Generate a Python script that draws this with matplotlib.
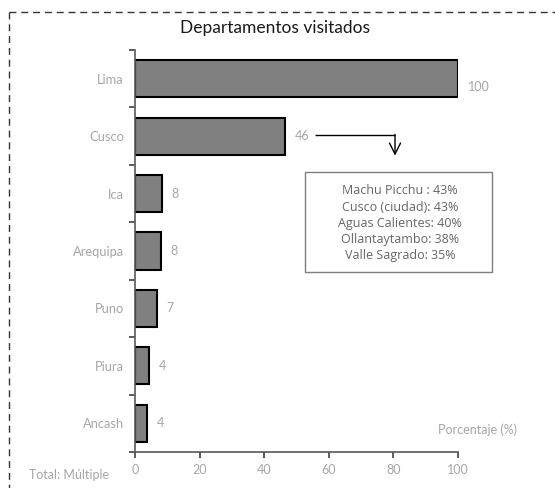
import matplotlib
matplotlib.use("Agg")
import matplotlib.pyplot as plt
from matplotlib.lines import Line2D
from matplotlib.patches import Rectangle
import numpy as np

categories = ["Lima", "Cusco", "Ica", "Arequipa", "Puno", "Piura", "Ancash"]
values = [100, 46.4, 8.4, 7.9, 6.8, 4.4, 3.8]
value_labels = ["100", "46", "8", "8", "7", "4", "4"]
x_ticks = [0, 20, 40, 60, 80, 100]
cusco_details = ["Machu Picchu : 43%", "Cusco (ciudad): 43%", "Aguas Calientes: 40%",
                 "Ollantaytambo: 38%", "Valle Sagrado: 35%"]

plt.rcParams['font.family'] = ['Lato', 'DejaVu Sans']
W, H = 555, 488
fig = plt.figure(figsize=(W/100, H/100), dpi=100)
ax = fig.add_axes([135/W, 1-452/H, (458-135)/W, (452-50)/H])

grey_txt = "#a6a6a6"
y = np.arange(len(categories))
ax.barh(y, values, height=0.645, color="#808080", edgecolor="black", linewidth=1.5)
ax.set_ylim(len(categories)-0.5, -0.5)
ax.set_xlim(0, 100)

for i, (yi, v, lab) in enumerate(zip(y, values, value_labels)):
    dy = 0.14 if i == 0 else 0.0
    ax.text(v + 3.0, yi + dy, lab, color=grey_txt, fontsize=9, va="center", ha="left",
            clip_on=False)

ax.set_yticks(y)
ax.set_yticklabels(categories)
ax.set_yticks(np.arange(-0.5, len(categories)), minor=True)
ax.tick_params(axis="y", which="major", length=0, pad=8, labelcolor=grey_txt, labelsize=9.3)
ax.tick_params(axis="y", which="minor", length=4, width=1.2, color="#404040", direction="out")
ax.set_xticks(x_ticks)
ax.tick_params(axis="x", length=4, width=1.2, color="#404040", direction="out",
               labelcolor=grey_txt, labelsize=9, pad=5)
for s in ["top", "right"]:
    ax.spines[s].set_visible(False)
for s in ["left", "bottom"]:
    ax.spines[s].set_color("#595959")
    ax.spines[s].set_linewidth(1.2)

# arrow from Cusco label
ax.plot([55.7, 80.5], [0.98, 0.98], color="black", lw=1, solid_capstyle="butt", clip_on=False)
ax.annotate("", xy=(80.5, 1.34), xytext=(80.5, 0.97),
            arrowprops=dict(arrowstyle="->", color="black", lw=1, shrinkA=0, shrinkB=0,
                            mutation_scale=20))

# details box
fig.add_artist(Rectangle((305/W, 1-272/H), (492-305)/W, (272-172)/H,
                         transform=fig.transFigure, fill=False, edgecolor="#7f7f7f", lw=1))
for i, line in enumerate(cusco_details):
    fig.text(400/W, 1-(191 + i*16.2)/H, line, ha="center", va="center",
             fontsize=9, color="#666666", family=["Open Sans", "DejaVu Sans"])

fig.text(275/W, 1-28/H, "Departamentos visitados", ha="center", va="center",
         fontsize=12.5, color="#1a1a1a")
fig.text(478/W, 1-430/H, "Porcentaje (%)", ha="center", va="center",
         fontsize=9, color=grey_txt)
fig.text(29/W, 1-475/H, "Total: Múltiple", ha="left", va="center",
         fontsize=9, color=grey_txt)

# dashed border
fig.add_artist(Line2D([9/W, 1], [1-12/H, 1-12/H], transform=fig.transFigure,
                      color="#333333", lw=1, linestyle=(0, (5, 3.5))))
fig.add_artist(Line2D([9/W, 9/W], [1-12/H, 0], transform=fig.transFigure,
                      color="#333333", lw=1, linestyle=(0, (5, 3.5))))

fig.savefig("out.png", dpi=100)
